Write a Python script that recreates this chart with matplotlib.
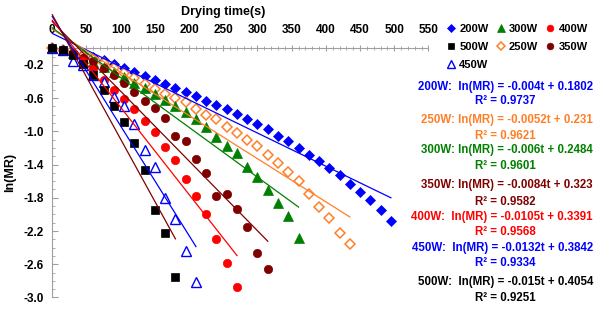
import matplotlib
matplotlib.use("Agg")
import matplotlib.pyplot as plt
from matplotlib.ticker import MultipleLocator, FixedLocator
import numpy as np

plt.rcParams['font.family'] = ['Liberation Sans', 'DejaVu Sans']
plt.rcParams['font.weight'] = 'bold'

# ---------------- data ----------------
step = 15
y200 = [0, -0.02, -0.04, -0.07, -0.10, -0.14, -0.19, -0.24, -0.28, -0.33, -0.38, -0.43,
        -0.48, -0.52, -0.57, -0.63, -0.68, -0.73, -0.79, -0.85, -0.91, -0.97, -1.05,
        -1.12, -1.20, -1.28, -1.36, -1.44, -1.53, -1.63, -1.73, -1.83, -1.95, -2.08]
y250 = [0, -0.02, -0.05, -0.09, -0.13, -0.18, -0.24, -0.30, -0.36, -0.43, -0.49, -0.55,
        -0.60, -0.65, -0.73, -0.80, -0.85, -0.95, -1.02, -1.10, -1.18, -1.28, -1.38,
        -1.49, -1.60, -1.75, -1.91, -2.04, -2.23, -2.36]
y300 = [0, -0.02, -0.06, -0.11, -0.16, -0.22, -0.29, -0.35, -0.42, -0.48, -0.55, -0.62,
        -0.70, -0.77, -0.85, -0.95, -1.07, -1.17, -1.26, -1.43, -1.55, -1.71, -1.86,
        -2.02, -2.28]
y350 = [0, -0.02, -0.06, -0.11, -0.15, -0.24, -0.32, -0.42, -0.53, -0.63, -0.72, -0.84,
        -1.05, -1.12, -1.33, -1.50, -1.78, -1.75, -1.94, -2.15, -2.46, -2.66]
y400 = [0, -0.02, -0.08, -0.15, -0.25, -0.38, -0.50, -0.61, -0.73, -0.88, -1.01, -1.19,
        -1.34, -1.57, -1.78, -2.00, -2.30, -2.58, -2.88]
y450 = [0, -0.02, -0.15, -0.20, -0.32, -0.41, -0.58, -0.70, -0.91, -1.22, -1.43, -1.80,
        -2.06, -2.44, -2.82]
y500 = [0, -0.02, -0.08, -0.19, -0.32, -0.50, -0.69, -0.89, -1.14, -1.46, -1.95, -2.23,
        -2.76]

powers = ['200W', '250W', '300W', '350W', '400W', '450W', '500W']
slopes = [-0.004, -0.0052, -0.006, -0.0084, -0.0105, -0.0132, -0.015]
intercepts = [0.1802, 0.231, 0.2484, 0.323, 0.3391, 0.3842, 0.4054]
r2 = ['0.9737', '0.9621', '0.9601', '0.9582', '0.9568', '0.9334', '0.9251']
slope_txt = ['-0.004', '-0.0052', '-0.006', '-0.0084', '-0.0105', '-0.0132', '-0.015']
icpt_txt = ['0.1802', '0.231', '0.2484', '0.323', '0.3391', '0.3842', '0.4054']
xticks = [0, 50, 100, 150, 200, 250, 300, 350, 400, 450, 500, 550]
yticks = [-0.2, -0.6, -1.0, -1.4, -1.8, -2.2, -2.6, -3.0]
ytick_labels = ['-0.2', '-0.6', '-1.0', '-1.4', '-1.8', '-2.2', '-2.6', '-3.0']

series = [y200, y250, y300, y350, y400, y450, y500]

# ---------------- styles ----------------
BLUE = '#0000FF'
ORANGE = '#FF7F27'
GREEN = '#008000'
MAROON = '#800000'
RED = '#FF0000'
styles = [
    dict(marker='D', color=BLUE, mfc=BLUE, ms=5.2),
    dict(marker='D', color=ORANGE, mfc='white', ms=5.0, mew=1.1),
    dict(marker='^', color=GREEN, mfc=GREEN, ms=6.5),
    dict(marker='o', color=MAROON, mfc=MAROON, ms=6.0),
    dict(marker='o', color=RED, mfc=RED, ms=6.0),
    dict(marker='^', color=BLUE, mfc='white', ms=6.5, mew=1.0),
    dict(marker='s', color='black', mfc='black', ms=5.2),
]
line_colors = [BLUE, ORANGE, GREEN, MAROON, RED, BLUE, MAROON]
text_colors = [BLUE, ORANGE, GREEN, MAROON, RED, BLUE, 'black']

W, H = 600, 314
fig = plt.figure(figsize=(6.0, 3.14), dpi=100)

# axes geometry (pixels)
x0_px, x1_px = 52.3, 428.5
yzero_px, ybot_px = 48.4, 297.4
ytop_val = 0.45
ppu = (ybot_px - yzero_px) / 3.0
ytop_px = yzero_px - ytop_val * ppu
ax = fig.add_axes([x0_px / W, 1 - ybot_px / H, (x1_px - x0_px) / W, (ybot_px - ytop_px) / H])
ax.set_xlim(0, 550)
ax.set_ylim(-3.0, ytop_val)

handles = []
for ys, st, lc, p, m, b in zip(series, styles, line_colors, powers, slopes, intercepts):
    t = np.arange(len(ys)) * step
    h, = ax.plot(t, ys, linestyle='none', marker=st['marker'], color=st['color'],
                 mfc=st['mfc'], mec=st['color'], ms=st['ms'], mew=st.get('mew', 0.5),
                 label=p, zorder=3, clip_on=False)
    handles.append(h)
    tt = np.array([0, t[-1]])
    ax.plot(tt, m * tt + b, color=lc, lw=0.9, zorder=4, clip_on=False)

# spines / ticks
for s in ['right', 'bottom']:
    ax.spines[s].set_visible(False)
axis_col = '#A0A0A0'
ax.spines['top'].set_position(('data', 0))
ax.spines['top'].set_color(axis_col)
ax.spines['left'].set_color(axis_col)
ax.spines['left'].set_bounds(-3.0, 0)
ax.xaxis.tick_top()
ax.xaxis.set_major_locator(FixedLocator(xticks))
ax.xaxis.set_minor_locator(MultipleLocator(10))
ax.yaxis.set_major_locator(FixedLocator(yticks))
ax.yaxis.set_minor_locator(FixedLocator(np.round(np.arange(-3.0, 0.01, 0.1), 2)))
ax.set_yticklabels(ytick_labels)
ax.tick_params(axis='x', which='major', direction='inout', length=5, color=axis_col,
               labelsize=8.5, pad=6.3)
ax.tick_params(axis='x', which='minor', direction='inout', length=3, color=axis_col)
ax.tick_params(axis='y', which='major', direction='in', length=4, color=axis_col,
               labelsize=8.5, pad=6)
ax.tick_params(axis='y', which='minor', direction='in', length=2.5, color=axis_col)
for lab in ax.get_xticklabels() + ax.get_yticklabels():
    lab.set_fontweight('bold')
ax.patch.set_visible(False)

fig.text(223.6 / W, 1 - 12 / H, 'Drying time(s)', ha='center', va='center',
         fontsize=9, fontweight='bold')
fig.text(10 / W, 1 - 172 / H, 'ln(MR)', ha='center', va='center', rotation=90,
         fontsize=9, fontweight='bold')

# legend
order = [0, 6, 5, 2, 1, 4, 3]
leg = fig.legend([handles[i] for i in order], [powers[i] for i in order], ncol=3,
                 loc='upper left', bbox_to_anchor=(446.5 / W, 1 - 24 / H),
                 frameon=False, borderpad=0, borderaxespad=0, handlelength=0.8,
                 handletextpad=0.35, columnspacing=0.68, labelspacing=0.72,
                 markerscale=0.8, prop=dict(size=8, weight='bold'))

# equation texts
eq_y = [86.7, 120, 150, 185, 216.7, 247.7, 282.3]
r2_y = [101, 136, 166, 201.7, 231.7, 263.3, 297.7]
for i in range(7):
    sp = '  ' if powers[i] in ('200W', '400W', '450W', '500W') else ' '
    fig.text(593 / W, 1 - eq_y[i] / H,
             f"{powers[i]}:{sp}ln(MR) = {slope_txt[i]}t + {icpt_txt[i]}",
             ha='right', va='center', fontsize=8.3, fontweight='bold', color=text_colors[i])
    fig.text(505 / W, 1 - r2_y[i] / H, f"R\u00b2 = {r2[i]}", ha='center', va='center',
             fontsize=8.3, fontweight='bold', color=text_colors[i])

fig.savefig('out.png', dpi=100)
